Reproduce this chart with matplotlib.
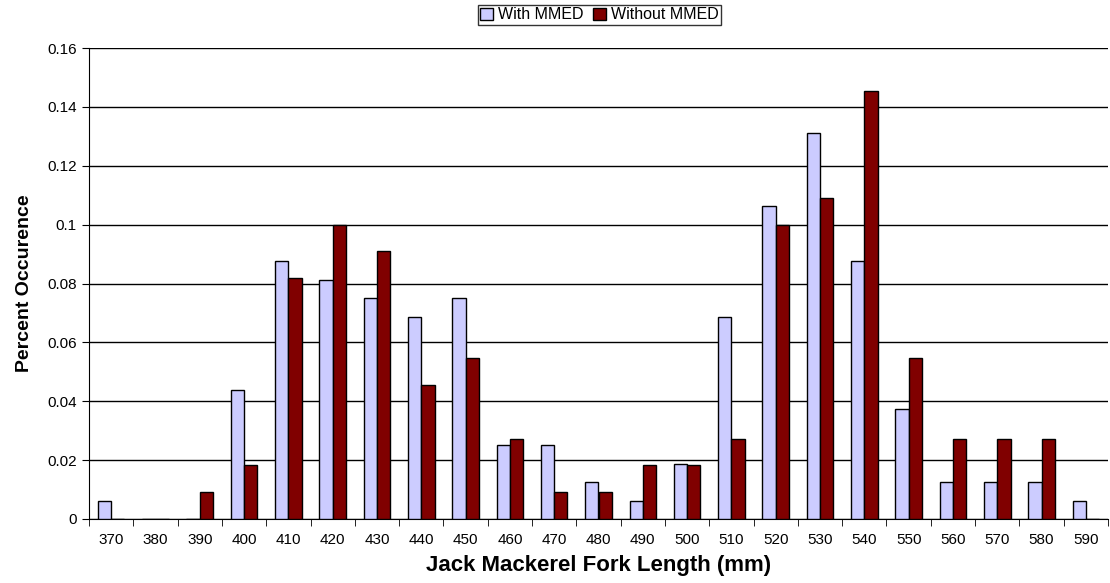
import numpy as np
import matplotlib.pyplot as plt

# -----------------------------
# Data
# -----------------------------
lengths = [370, 380, 390, 400, 410, 420, 430, 440, 450, 460, 470, 480,
           490, 500, 510, 520, 530, 540, 550, 560, 570, 580, 590]
with_mmed = [0.00625, 0, 0, 0.04375, 0.0875, 0.08125, 0.075, 0.06875, 0.075,
             0.025, 0.025, 0.0125, 0.00625, 0.01875, 0.06875, 0.10625,
             0.13125, 0.0875, 0.0375, 0.0125, 0.0125, 0.0125, 0.00625]
without_mmed = [0, 0, 0.00909, 0.01818, 0.08182, 0.1, 0.09091, 0.04545,
                0.05455, 0.02727, 0.00909, 0.00909, 0.01818, 0.01818,
                0.02727, 0.1, 0.10909, 0.14545, 0.05455, 0.02727, 0.02727,
                0.02727, 0]
y_ticks = [0, 0.02, 0.04, 0.06, 0.08, 0.1, 0.12, 0.14, 0.16]
y_tick_labels = ["0", "0.02", "0.04", "0.06", "0.08", "0.1", "0.12", "0.14", "0.16"]

plt.rcParams['font.family'] = ['Liberation Sans', 'DejaVu Sans']

fig = plt.figure(figsize=(11.1, 5.83), dpi=100)
ax = fig.add_axes([89 / 1110, 1 - 519 / 583, (1108 - 89) / 1110, (519 - 48) / 583])

x = np.arange(len(lengths))
w = 0.3
ax.bar(x - w / 2, with_mmed, w, color='#CCCCFF', edgecolor='black', linewidth=1,
       label='With MMED', zorder=3)
ax.bar(x + w / 2, without_mmed, w, color='#800000', edgecolor='black', linewidth=1,
       label='Without MMED', zorder=3)

ax.set_xlim(-0.5, len(lengths) - 0.5)
ax.set_ylim(0, 0.16)
ax.set_yticks(y_ticks)
ax.set_yticklabels(y_tick_labels, fontsize=11)
ax.yaxis.grid(True, color='black', linewidth=1)
ax.set_axisbelow(True)

# category labels at centres, tick marks at the boundaries
ax.set_xticks(x)
ax.set_xticklabels([str(v) for v in lengths], fontsize=11)
ax.set_xticks(np.arange(len(lengths) + 1) - 0.5, minor=True)
ax.tick_params(axis='x', which='major', length=0, pad=10)
ax.tick_params(axis='x', which='minor', length=5, direction='out', color='black')
ax.tick_params(axis='y', length=5, direction='out', color='black', pad=4)

for s in ['top', 'right']:
    ax.spines[s].set_visible(False)
ax.spines['left'].set_color('black')
ax.spines['bottom'].set_color('black')

ax.set_xlabel('Jack Mackerel Fork Length (mm)', fontsize=16, fontweight='bold', labelpad=6)
ax.set_ylabel('Percent Occurence', fontsize=14, fontweight='bold', labelpad=10)

leg = fig.legend(loc='upper center', bbox_to_anchor=(0.54, 1.0), ncol=2, fontsize=11.5,
                 frameon=True, fancybox=False, edgecolor='black', handlelength=0.8,
                 handleheight=0.8, handletextpad=0.3, columnspacing=0.6,
                 borderpad=0.15, borderaxespad=0.3)
leg.get_frame().set_linewidth(1)

fig.savefig("out.png", dpi=100)
plt.close(fig)
